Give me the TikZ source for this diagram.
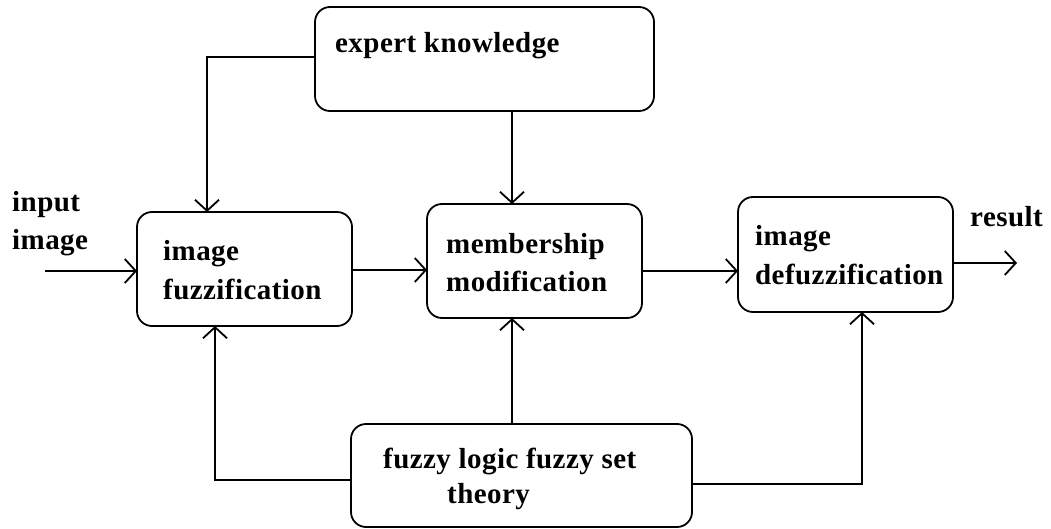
\documentclass[tikz,border=0pt]{standalone}
\usepackage{fontspec}
\setmainfont[LetterSpace=1.5]{Liberation Serif}
\usetikzlibrary{arrows.meta}
\begin{document}
\begin{tikzpicture}[x=1pt,y=-1pt,
  box/.style={draw, line width=1.8pt, rounded corners=15pt, inner sep=0pt, outer sep=0pt},
  lbl/.style={anchor=base west, inner sep=0pt, font=\bfseries\fontsize{29}{37}\selectfont},
  conn/.style={line width=1.8pt},
  arr/.style={line width=1.8pt, -{Straight Barb[length=11pt,width=24pt]}}]
\useasboundingbox (0,0) rectangle (1051,529);
% boxes
\node[box, minimum width=339pt, minimum height=104pt] (ek) at (484.5,59) {};
\node[box, minimum width=215pt, minimum height=114pt] (fz) at (244.5,269) {};
\node[box, minimum width=215pt, minimum height=114pt] (mm) at (534.5,261) {};
\node[box, minimum width=215pt, minimum height=115pt] (dz) at (845.5,254.5) {};
\node[box, minimum width=341pt, minimum height=103pt] (fl) at (521.5,475.5) {};
% texts
\node[lbl] (t1) at (335,53) {expert knowledge};
\node[lbl] (t2a) at (163,261) {image};
\node[lbl] (t2b) at (163,299) {fuzzification};
\node[lbl] (t3a) at (446,254) {membership};
\node[lbl] (t3b) at (446,291) {modification};
\node[lbl] (t4a) at (755,245) {image};
\node[lbl] (t4b) at (755,284) {defuzzification};
\node[lbl] (t5a) at (383,468) {fuzzy logic fuzzy set};
\node[lbl] (t5b) at (447,503) {theory};
\node[lbl] (t6a) at (12,212) {input};
\node[lbl] (t6b) at (12,250) {image};
\node[lbl] (t7) at (970,226) {result};
% free ends
\coordinate (in) at (45,271);
\coordinate (out) at (1017,263);
% connectors
\draw[arr] (ek.west |- 0,57) -| (fz.north -| 207,0);
\draw[arr] (ek.south -| 512,0) -- (mm.north -| 512,0);
\draw[arr] (in) -- (fz.west |- in);
\draw[arr] (fz.east |- 0,270) -- (mm.west |- 0,270);
\draw[arr] (mm.east |- 0,271) -- (dz.west |- 0,271);
\draw[arr] (dz.east |- out) -- (out);
\draw[arr] (fl.west |- 0,480) -| (fz.south -| 215,0);
\draw[arr] (fl.north -| 512,0) -- (mm.south -| 512,0);
\draw[arr] (fl.east |- 0,484) -| (dz.south -| 862,0);
\end{tikzpicture}
\end{document}
